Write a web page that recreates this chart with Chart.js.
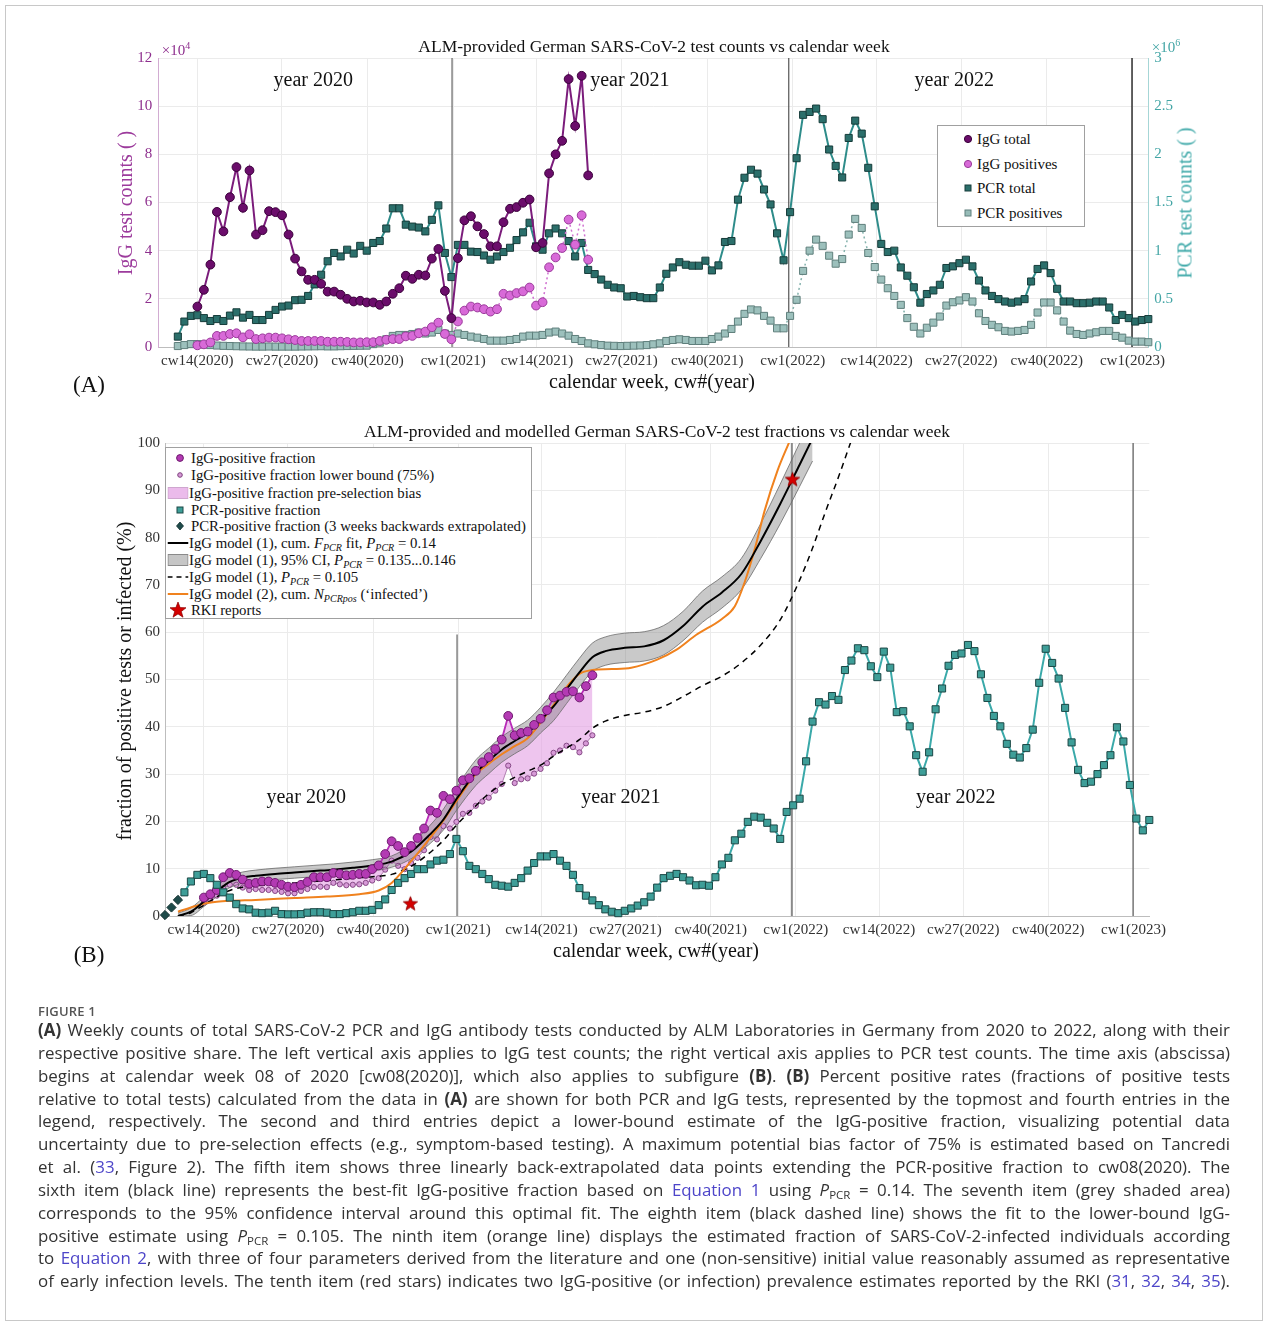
<!DOCTYPE html>
<html><head><meta charset="utf-8">
<script src="https://cdn.jsdelivr.net/npm/chart.js@4.4.1/dist/chart.umd.min.js"></script>
<style>
html,body{margin:0;padding:0;background:#fff;}
body{width:1268px;height:1326px;position:relative;overflow:hidden;font-family:'Liberation Serif',serif;}
#frame{position:absolute;left:5px;top:5px;width:1256px;height:1314px;border:1px solid #c8c8c8;}
canvas{position:absolute;left:0;}
.t{position:absolute;white-space:nowrap;transform:translate(-50%,-50%);color:#111;font-family:'Liberation Serif',serif;}
.rot{transform:translate(-50%,-50%) rotate(-90deg);}
.legend{position:absolute;background:#fff;border:1px solid #a0a0a0;font-family:'Liberation Serif',serif;color:#111;box-sizing:border-box;}
.legend .mk{position:absolute;transform:translate(-50%,-50%);display:block;}
.legend .tx{position:absolute;transform:translateY(-50%);white-space:nowrap;}
sub{font-size:0.68em;line-height:0;vertical-align:-0.3em;}
#figlab{position:absolute;left:38px;top:1002px;font-family:'Open Sans',sans-serif;font-weight:600;font-size:13px;color:#555;letter-spacing:0.2px;}
#caption{position:absolute;left:38px;top:1019px;width:1192px;font-family:'Open Sans',sans-serif;color:#333;}
.cl{font-size:16.9px;line-height:22.85px;height:22.85px;white-space:nowrap;}
.cl a{color:#4d45c9;text-decoration:none;}
</style>
</head>
<body>
<div id="frame"></div>
<canvas id="cA" width="1268" height="400" style="top:0"></canvas>
<canvas id="cB" width="1268" height="580" style="top:400px"></canvas>

<div class="t" style="left:654px;top:46px;font-size:17.5px;">ALM-provided German SARS-CoV-2 test counts vs calendar week</div>
<div class="t" style="left:176px;top:49px;font-size:15px;color:#8e2f8e;">&times;10<sup style="font-size:10px">4</sup></div>
<div class="t" style="left:1166px;top:46px;font-size:15px;color:#43a5a5;">&times;10<sup style="font-size:10px">6</sup></div>
<div class="t rot" style="left:125px;top:203px;font-size:20px;color:#9c3b9c;">IgG test counts ( )</div>
<div class="t rot" style="left:1185px;top:203px;font-size:20px;color:#3fa9a9;">PCR test counts ( )</div>
<div class="t" style="left:652px;top:381px;font-size:20px;">calendar week, cw#(year)</div>
<div class="t" style="left:89px;top:385px;font-size:23px;">(A)</div>

<div class="t" style="left:657px;top:431px;font-size:17.5px;">ALM-provided and modelled German SARS-CoV-2 test fractions vs calendar week</div>
<div class="t rot" style="left:124px;top:681px;font-size:20px;">fraction of positive tests or infected (%)</div>
<div class="t" style="left:656px;top:950px;font-size:20px;">calendar week, cw#(year)</div>
<div class="t" style="left:89px;top:955px;font-size:23px;">(B)</div>

<div class="legend" id="legA" style="left:937px;top:125px;width:148px;height:102px;font-size:15px;">
  <svg class="mk" style="left:30px;top:13px" width="10" height="10"><circle cx="5" cy="5" r="3.6" fill="#6b0d6b" stroke="#3a003a" stroke-width="1"/></svg>
  <span class="tx" style="left:39px;top:13px">IgG total</span>
  <svg class="mk" style="left:30px;top:38px" width="10" height="10"><circle cx="5" cy="5" r="3.6" fill="#d86ad8" stroke="#9a3a9a" stroke-width="1"/></svg>
  <span class="tx" style="left:39px;top:38px">IgG positives</span>
  <svg class="mk" style="left:30px;top:62px" width="10" height="10"><rect x="2" y="2" width="6" height="6" fill="#2b6f6b" stroke="#173c3a" stroke-width="1"/></svg>
  <span class="tx" style="left:39px;top:62px">PCR total</span>
  <svg class="mk" style="left:30px;top:87px" width="10" height="10"><rect x="2" y="2" width="6" height="6" fill="#97bcb8" stroke="#5f7f7c" stroke-width="1"/></svg>
  <span class="tx" style="left:39px;top:87px">PCR positives</span>
</div>

<div class="legend" id="legB" style="left:165px;top:447px;width:367px;height:172px;font-size:14.8px;">
  <svg class="mk" style="left:14px;top:10px" width="10" height="10"><circle cx="5" cy="5" r="3.4" fill="#b33ab3" stroke="#6e1a6e" stroke-width="1"/></svg>
  <span class="tx" style="left:25px;top:10px">IgG-positive fraction</span>
  <svg class="mk" style="left:14px;top:27px" width="10" height="10"><circle cx="5" cy="5" r="2.3" fill="#d79ad7" stroke="#7d3f7d" stroke-width="1"/></svg>
  <span class="tx" style="left:25px;top:27px">IgG-positive fraction lower bound (75%)</span>
  <svg class="mk" style="left:11.5px;top:45px" width="21" height="12"><rect x="0.5" y="0.5" width="20" height="11" fill="#ebbbeb" stroke="#cfa6cf" stroke-width="1"/></svg>
  <span class="tx" style="left:23px;top:45px">IgG-positive fraction pre-selection bias</span>
  <svg class="mk" style="left:14px;top:62px" width="10" height="10"><rect x="2" y="2" width="6" height="6" fill="#3e9e98" stroke="#1b4745" stroke-width="1"/></svg>
  <span class="tx" style="left:25px;top:62px">PCR-positive fraction</span>
  <svg class="mk" style="left:14px;top:78px" width="10" height="10"><polygon points="5,1 8.5,5 5,9 1.5,5" fill="#1e4b4a" stroke="#12302f" stroke-width="0.8"/></svg>
  <span class="tx" style="left:25px;top:78px">PCR-positive fraction (3 weeks backwards extrapolated)</span>
  <svg class="mk" style="left:11.5px;top:95px" width="21" height="4"><line x1="0" y1="2" x2="21" y2="2" stroke="#000" stroke-width="2"/></svg>
  <span class="tx" style="left:23px;top:95px">IgG model (1), cum. <i>F</i><sub><i>PCR</i></sub> fit, <i>P</i><sub><i>PCR</i></sub> = 0.14</span>
  <svg class="mk" style="left:11.5px;top:112px" width="21" height="12"><rect x="0.5" y="0.5" width="20" height="11" fill="#c6c6c6" stroke="#8a8a8a" stroke-width="1"/></svg>
  <span class="tx" style="left:23px;top:112px">IgG model (1), 95% CI, <i>P</i><sub><i>PCR</i></sub> = 0.135...0.146</span>
  <svg class="mk" style="left:11.5px;top:129px" width="21" height="4"><line x1="0" y1="2" x2="21" y2="2" stroke="#000" stroke-width="1.6" stroke-dasharray="5,4"/></svg>
  <span class="tx" style="left:23px;top:129px">IgG model (1), <i>P</i><sub><i>PCR</i></sub> = 0.105</span>
  <svg class="mk" style="left:11.5px;top:146px" width="21" height="4"><line x1="0" y1="2" x2="21" y2="2" stroke="#f0821e" stroke-width="2"/></svg>
  <span class="tx" style="left:23px;top:146px">IgG model (2), cum. <i>N</i><sub><i>PCRpos</i></sub> (‘infected’)</span>
  <svg class="mk" style="left:12px;top:162px" width="18" height="18"><polygon points="9,1 11.1,6.6 17,6.8 12.3,10.5 14,16.2 9,12.9 4,16.2 5.7,10.5 1,6.8 6.9,6.6" fill="#d40000" stroke="#8a0000" stroke-width="0.7"/></svg>
  <span class="tx" style="left:25px;top:162px">RKI reports</span>
</div>

<div id="figlab">FIGURE 1</div>
<div id="caption">
<div class="cl"><span><b>(A)</b> Weekly counts of total SARS-CoV-2 PCR and IgG antibody tests conducted by ALM Laboratories in Germany from 2020 to 2022, along with their</span></div>
<div class="cl"><span>respective positive share. The left vertical axis applies to IgG test counts; the right vertical axis applies to PCR test counts. The time axis (abscissa)</span></div>
<div class="cl"><span>begins at calendar week 08 of 2020 [cw08(2020)], which also applies to subfigure <b>(B)</b>. <b>(B)</b> Percent positive rates (fractions of positive tests</span></div>
<div class="cl"><span>relative to total tests) calculated from the data in <b>(A)</b> are shown for both PCR and IgG tests, represented by the topmost and fourth entries in the</span></div>
<div class="cl"><span>legend, respectively. The second and third entries depict a lower-bound estimate of the IgG-positive fraction, visualizing potential data</span></div>
<div class="cl"><span>uncertainty due to pre-selection effects (e.g., symptom-based testing). A maximum potential bias factor of 75% is estimated based on Tancredi</span></div>
<div class="cl"><span>et al. (<a>33</a>, Figure 2). The fifth item shows three linearly back-extrapolated data points extending the PCR-positive fraction to cw08(2020). The</span></div>
<div class="cl"><span>sixth item (black line) represents the best-fit IgG-positive fraction based on <a>Equation 1</a> using <i>P</i><sub>PCR</sub> = 0.14. The seventh item (grey shaded area)</span></div>
<div class="cl"><span>corresponds to the 95% confidence interval around this optimal fit. The eighth item (black dashed line) shows the fit to the lower-bound IgG-</span></div>
<div class="cl"><span>positive estimate using <i>P</i><sub>PCR</sub> = 0.105. The ninth item (orange line) displays the estimated fraction of SARS-CoV-2-infected individuals according</span></div>
<div class="cl"><span>to <a>Equation 2</a>, with three of four parameters derived from the literature and one (non-sensitive) initial value reasonably assumed as representative</span></div>
<div class="cl"><span>of early infection levels. The tenth item (red stars) indicates two IgG-positive (or infection) prevalence estimates reported by the RKI (<a>31</a>, <a>32</a>, <a>34</a>, <a>35</a>).</span></div>
</div>

<script>
// ---------- axis / category data ----------
const tickWeeks  = [5.99, 18.99, 32.13, 45.27, 58.13, 71.13, 84.27, 97.41, 110.27, 123.27, 136.41, 149.56];
const tickLabels = ['cw14(2020)','cw27(2020)','cw40(2020)','cw1(2021)','cw14(2021)','cw27(2021)','cw40(2021)','cw1(2022)','cw14(2022)','cw27(2022)','cw40(2022)','cw1(2023)'];
const yearLineWeeks = [45.1, 96.8, 149.5];
const yearNames = ['year 2020', 'year 2021', 'year 2022'];

// ---------- panel A: weekly counts (week index 0 = cw08(2020)) ----------
const igGStartWeek = 6;
const igGTotal = [ // x10^4
 1.68, 2.375, 3.42, 5.61, 4.8, 6.22, 7.47, 5.78, 7.33, 4.67,
 4.85, 5.64, 5.6, 5.47, 4.67, 3.67, 3.14, 2.79, 2.79, 2.625,
 2.3, 2.3, 2.17, 2.0, 1.89, 1.92, 1.85, 1.85, 1.75, 1.89,
 2.21, 2.44, 2.96, 2.83, 3.0, 2.97, 3.67, 4.07, 2.33, 1.2,
 3.69, 5.26, 5.43, 5.01, 4.69, 4.18, 4.18, 5.18, 5.74, 5.81,
 5.99, 6.125, 4.14, 4.32, 7.21, 8.0, 8.56, 11.125, 9.18, 11.26, 7.125];
const igGPositives = [ // x10^4
 0.07, 0.11, 0.19, 0.46, 0.46, 0.54, 0.57, 0.40, 0.53, 0.33,
 0.36, 0.39, 0.39, 0.36, 0.32, 0.29, 0.25, 0.25, 0.25, 0.25,
 0.22, 0.22, 0.22, 0.21, 0.19, 0.19, 0.2, 0.2, 0.25, 0.3,
 0.33, 0.33, 0.44, 0.46, 0.57, 0.64, 0.82, 1.01, 0.54, 0.32,
 1.06, 1.51, 1.68, 1.64, 1.57, 1.47, 1.57, 2.21, 2.14, 2.24,
 2.31, 2.47, 1.72, 1.86, 3.31, 3.72, 4.11, 5.29, 4.25, 5.47, 3.625];
const pcrStartWeek = 3;
const pcrTotal = [ // x10^6
 0.108, 0.264, 0.323, 0.33, 0.30, 0.27, 0.29, 0.27, 0.326, 0.36,
 0.305, 0.333, 0.28, 0.28, 0.333, 0.385, 0.42, 0.43, 0.486, 0.49,
 0.53, 0.65, 0.75, 0.89, 0.976, 0.94, 1.01, 0.97, 1.05, 1.0,
 1.08, 1.10, 1.23, 1.44, 1.44, 1.27, 1.25, 1.24, 1.20, 1.32,
 1.47, 0.976, 0.726, 1.06, 1.06, 0.99, 0.986, 0.95, 0.906, 0.94,
 0.986, 1.03, 1.11, 1.19, 1.29, 1.045, 1.01, 1.18, 1.23, 1.18,
 1.10, 0.94, 1.08, 0.80, 0.757, 0.70, 0.646, 0.618, 0.61, 0.524,
 0.53, 0.517, 0.507, 0.507, 0.618, 0.76, 0.826, 0.88, 0.854, 0.844,
 0.844, 0.896, 0.795, 0.847, 1.09, 1.10, 1.53, 1.757, 1.84, 1.80,
 1.635, 1.48, 1.18, 0.90, 1.40, 1.96, 2.41, 2.44, 2.475, 2.365,
 2.05, 1.88, 1.76, 2.17, 2.35, 2.215, 1.86, 1.46, 1.07, 0.986,
 1.0, 0.826, 0.74, 0.62, 0.46, 0.55, 0.587, 0.646, 0.82, 0.837,
 0.87, 0.906, 0.837, 0.69, 0.587, 0.53, 0.497, 0.472, 0.46, 0.472,
 0.497, 0.68, 0.81, 0.847, 0.767, 0.604, 0.472, 0.472, 0.455, 0.455,
 0.46, 0.472, 0.472, 0.41, 0.28, 0.333, 0.30, 0.264, 0.28, 0.29];
const pcrPositives = [ // x10^6
 0.01, 0.02, 0.03, 0.03, 0.025, 0.02, 0.015, 0.012, 0.01, 0.008,
 0.006, 0.005, 0.004, 0.004, 0.005, 0.004, 0.004, 0.004, 0.004, 0.005,
 0.006, 0.007, 0.008, 0.006, 0.006, 0.008, 0.01, 0.012, 0.013, 0.014,
 0.03, 0.045, 0.08, 0.115, 0.125, 0.125, 0.135, 0.15, 0.14, 0.15,
 0.177, 0.14, 0.125, 0.14, 0.125, 0.108, 0.097, 0.083, 0.066, 0.066,
 0.066, 0.073, 0.083, 0.108, 0.118, 0.118, 0.125, 0.15, 0.16, 0.14,
 0.118, 0.083, 0.0625, 0.038, 0.028, 0.02, 0.014, 0.012, 0.01, 0.012,
 0.014, 0.016, 0.02, 0.028, 0.038, 0.0625, 0.073, 0.08, 0.073, 0.0625,
 0.0625, 0.0625, 0.083, 0.108, 0.14, 0.1875, 0.264, 0.344, 0.39, 0.38,
 0.323, 0.274, 0.194, 0.194, 0.323, 0.49, 0.79, 1.0, 1.115, 1.05,
 0.948, 0.865, 0.913, 1.167, 1.33, 1.236, 0.976, 0.83, 0.70, 0.61,
 0.53, 0.4375, 0.30, 0.21, 0.14, 0.20, 0.253, 0.316, 0.43, 0.465,
 0.483, 0.517, 0.472, 0.35, 0.27, 0.23, 0.205, 0.167, 0.16, 0.167,
 0.177, 0.23, 0.358, 0.462, 0.462, 0.38, 0.264, 0.17, 0.135, 0.125,
 0.14, 0.153, 0.167, 0.167, 0.115, 0.097, 0.066, 0.056, 0.056, 0.05];

// ---------- panel B: fractions (%) ----------
const igGFracStartWeek = 6;
const igGFraction = [
 3.9, 4.6, 5.5, 8.2, 9.1, 8.7, 7.7, 6.8, 7.0, 7.3,
 7.3, 7.0, 6.6, 6.2, 6.1, 6.6, 7.2, 8.2, 8.2, 8.2,
 9.1, 8.9, 8.6, 8.7, 8.9, 8.9, 9.9, 10.7, 13.1, 15.8,
 14.8, 13.5, 14.8, 16.5, 18.5, 22.3, 21.8, 25.4, 24.7, 26.5,
 28.7, 29.1, 30.7, 32.5, 33.6, 35.3, 37.3, 42.3, 38.2, 38.7,
 39.0, 40.4, 41.7, 43.5, 46.2, 46.6, 47.4, 47.5, 46.2, 48.6, 50.9];
const igGLowerBound = [
 2.8, 3.4, 4.3, 5.9, 6.6, 6.6, 6.0, 5.5, 5.7, 5.5,
 5.5, 5.3, 5.1, 4.8, 4.8, 5.3, 5.7, 6.1, 6.2, 6.1,
 7.0, 6.7, 6.5, 6.6, 6.7, 7.0, 7.5, 8.0, 9.8, 11.7,
 10.6, 9.9, 11.2, 12.3, 13.9, 16.7, 16.2, 19.0, 18.5, 19.9,
 21.6, 21.8, 23.3, 24.2, 25.0, 26.5, 27.9, 31.8, 28.1, 28.9,
 29.1, 30.1, 31.1, 32.3, 34.5, 35.0, 36.0, 35.7, 34.6, 36.5, 38.2];
const pcrFracStartWeek = 3;
const pcrFraction = [
 5.0, 7.3, 8.7, 8.9, 8.0, 6.6, 5.0, 3.9, 2.5, 1.6,
 1.4, 0.7, 0.6, 0.7, 1.1, 0.4, 0.35, 0.35, 0.4, 0.7,
 0.8, 0.8, 0.7, 0.4, 0.4, 0.6, 0.8, 1.1, 1.1, 1.3,
 2.3, 3.5, 5.5, 7.0, 8.0, 8.9, 9.9, 9.9, 10.9, 11.7,
 11.9, 13.1, 16.3, 13.7, 10.6, 9.9, 8.9, 7.8, 6.6, 6.4,
 6.2, 7.0, 8.0, 9.6, 11.2, 12.6, 12.6, 13.1, 11.7, 10.6,
 8.7, 5.9, 4.3, 3.3, 2.3, 1.4, 0.9, 0.6, 1.1, 1.6,
 2.2, 2.9, 4.1, 6.0, 8.0, 8.5, 8.9, 8.2, 7.5, 6.5,
 6.6, 6.4, 8.2, 10.9, 12.3, 16.0, 17.4, 19.9, 21.0, 20.8,
 19.7, 18.5, 16.3, 22.0, 23.4, 24.8, 32.7, 41.1, 45.2, 44.7,
 46.5, 45.7, 52.0, 54.0, 56.6, 56.2, 52.8, 50.5, 55.9, 52.5,
 43.1, 43.3, 40.1, 34.0, 30.5, 34.6, 43.7, 48.1, 52.9, 55.2,
 55.5, 57.3, 56.0, 51.1, 46.1, 42.3, 40.1, 36.4, 34.1, 33.5,
 35.5, 39.4, 49.3, 56.5, 53.5, 50.2, 44.0, 36.7, 30.9, 28.1,
 28.4, 30.0, 31.9, 34.0, 39.9, 36.9, 27.7, 20.6, 18.1, 20.3];
const extrapWeeks  = [0, 1, 2];
const extrapValues = [0.2, 1.8, 3.4];

const modelWeeks = [2, 4, 6, 8, 10, 12, 14, 17, 20, 23, 26, 29, 32, 35, 38, 40, 43, 45, 48, 50,
                    52, 54, 56, 58, 60, 62, 64, 66, 68, 71, 74, 77, 80, 83, 86, 89, 92, 95, 98, 100];
const modelFit   = [0.0, 0.9, 3.0, 5.2, 7.2, 8.1, 8.5, 8.9, 9.2, 9.5, 9.8, 10.2, 10.7, 11.5, 13.6, 16.0, 20.4, 24.7, 30.3, 32.8,
                    35.2, 37.0, 38.7, 41.4, 44.3, 47.9, 51.5, 54.7, 56.0, 56.7, 57.0, 58.3, 61.3, 65.4, 68.4, 72.3, 79.3, 87.1, 95.4, 101.0];
const modelCIHigh = [0.6, 1.7, 4.0, 6.3, 8.4, 9.3, 9.7, 10.1, 10.4, 10.7, 11.0, 11.4, 11.9, 12.7, 15.1, 17.8, 22.6, 27.1, 33.0, 35.5,
                    37.9, 39.7, 41.4, 44.1, 47.3, 50.9, 54.5, 57.7, 59.0, 59.8, 60.1, 61.4, 64.4, 68.7, 71.7, 75.6, 83.0, 91.3, 100.0, 105.8];
const modelCILow  = [0.0, 0.1, 2.0, 4.1, 6.0, 6.9, 7.3, 7.7, 8.0, 8.3, 8.6, 9.0, 9.5, 10.3, 12.1, 14.2, 18.2, 22.3, 27.6, 30.1,
                    32.5, 34.3, 36.0, 38.7, 41.3, 44.9, 48.5, 51.7, 53.0, 53.6, 53.9, 55.2, 58.2, 62.1, 65.1, 69.0, 75.6, 82.9, 90.8, 96.2];
const lowerModelWeeks = [2, 4, 6, 8, 10, 12, 14, 17, 20, 23, 26, 29, 32, 35, 38, 40, 43, 45, 48, 50, 52, 54,
                         56, 58, 60, 62, 64, 66, 68, 71, 74, 77, 80, 83, 86, 89, 92, 95, 98, 100, 102, 104, 106];
const lowerModelFit   = [0.0, 0.7, 2.3, 4.0, 5.4, 6.1, 6.4, 6.7, 7.0, 7.3, 7.6, 8.0, 8.3, 8.8, 10.5, 12.4, 16.0, 19.2, 23.3, 25.9, 27.8, 29.3,
                         30.6, 31.9, 33.8, 35.5, 37.3, 39.7, 41.2, 42.4, 43.1, 44.3, 46.4, 48.7, 50.7, 53.5, 57.3, 62.6, 71.0, 77.8, 85.5, 92.8, 100.6];
const infectedWeeks = [2, 4, 6, 8, 10, 14, 20, 25, 30, 33, 35, 38, 40, 43, 45, 48, 50, 52, 54, 56, 58, 60, 62,
                       64, 66, 69, 72, 76, 79, 82, 86, 88, 89.5, 91, 92.6, 94.6, 96.4];
const infectedModel = [0.9, 1.8, 2.6, 3.0, 3.2, 3.4, 3.8, 4.1, 4.6, 5.4, 7.0, 11.6, 14.9, 20.2, 24.3, 30.0, 32.2, 34.2, 35.9, 37.6, 40.9, 44.6, 48.4,
                       51.2, 52.0, 52.2, 52.5, 54.2, 56.3, 59.4, 62.8, 65.5, 70.5, 77.2, 85.7, 94.2, 100.2];
const rkiWeeks  = [37.9, 96.9];
const rkiValues = [2.7, 92.4];

// ---------- helpers ----------
const series = (start, vals) => vals.map((v, i) => ({x: start + i, y: v}));
const pairs  = (xs, ys) => xs.map((x, i) => ({x: x, y: ys[i]}));
const vline  = (w, top) => [{x: w, y: 0}, {x: w, y: top}];

Chart.defaults.font.family = "'Liberation Serif', serif";
Chart.defaults.color = '#222';

const yearLabelPlugin = {
  id: 'yearLabels',
  afterDatasetsDraw(chart, args, o) {
    const ctx = chart.ctx;
    ctx.save();
    ctx.font = o.font; ctx.fillStyle = '#111';
    ctx.textAlign = 'center'; ctx.textBaseline = 'middle';
    o.text.forEach((t, i) => ctx.fillText(t, chart.scales.x.getPixelForValue(o.xs[i]), chart.scales[o.yAxis].getPixelForValue(o.y)));
    ctx.restore();
  }
};

function xAxis() {
  return {
    type: 'linear', min: 0, max: 152,
    afterBuildTicks: ax => { ax.ticks = tickWeeks.map(v => ({value: v})); },
    afterFit: s => { s.height = 25; },
    ticks: { autoSkip: false, maxRotation: 0, color: '#333', font: {size: 15}, padding: 5,
             callback: (v, i) => tickLabels[i] },
    grid: { color: '#ebebeb', drawTicks: false },
    border: { color: '#bdbdbd' }
  };
}
const plainNum = v => String(Math.round(v * 10) / 10);

// ---------- star marker ----------
function makeStar(size) {
  const c = document.createElement('canvas'); c.width = c.height = size;
  const g = c.getContext('2d');
  const cx = size / 2, cy = size / 2 + 0.8, R = size / 2 - 1, r = R * 0.42;
  g.beginPath();
  for (let i = 0; i < 10; i++) {
    const a = -Math.PI / 2 + i * Math.PI / 5, rr = i % 2 ? r : R;
    g.lineTo(cx + rr * Math.cos(a), cy + rr * Math.sin(a));
  }
  g.closePath(); g.fillStyle = '#d40000'; g.fill();
  g.strokeStyle = '#8a0000'; g.lineWidth = 0.8; g.stroke();
  return c;
}

// ---------- chart A ----------
new Chart(document.getElementById('cA'), {
  type: 'line',
  data: { datasets: [
    { label: 'IgG total', data: series(igGStartWeek, igGTotal), yAxisID: 'y', order: 1, clip: 8,
      borderColor: '#7b1c7b', borderWidth: 2, pointStyle: 'circle', pointRadius: 4.4,
      pointBackgroundColor: '#6b0d6b', pointBorderColor: '#3a003a', pointBorderWidth: 1 },
    { label: 'IgG positives', data: series(igGStartWeek, igGPositives), yAxisID: 'y', order: 2, clip: 8,
      borderColor: '#d070d0', borderWidth: 1.5, borderDash: [2, 3], pointStyle: 'circle', pointRadius: 4.4,
      pointBackgroundColor: '#d86ad8', pointBorderColor: '#9a3a9a', pointBorderWidth: 1 },
    { label: 'PCR total', data: series(pcrStartWeek, pcrTotal), yAxisID: 'y1', order: 3, clip: 8,
      borderColor: '#2e8c8a', borderWidth: 2, pointStyle: 'rect', pointRadius: 5,
      pointBackgroundColor: '#2b6f6b', pointBorderColor: '#173c3a', pointBorderWidth: 1 },
    { label: 'PCR positives', data: series(pcrStartWeek, pcrPositives), yAxisID: 'y1', order: 4, clip: 8,
      borderColor: '#86b3ae', borderWidth: 1.5, borderDash: [2, 3], pointStyle: 'rect', pointRadius: 5,
      pointBackgroundColor: '#9cc0bc', pointBorderColor: '#5f7f7c', pointBorderWidth: 1 },
    { label: 'yl1', data: vline(yearLineWeeks[0], 12), yAxisID: 'y', order: 9, borderColor: '#555', borderWidth: 1.1, pointRadius: 0 },
    { label: 'yl2', data: vline(yearLineWeeks[1], 12), yAxisID: 'y', order: 9, borderColor: '#444', borderWidth: 1.1, pointRadius: 0 },
    { label: 'yl3', data: vline(yearLineWeeks[2], 12), yAxisID: 'y', order: 9, borderColor: '#111', borderWidth: 1.3, pointRadius: 0 }
  ]},
  options: {
    responsive: false, animation: false, events: [],
    layout: { padding: { left: 0, right: 0, top: 58, bottom: 28 } },
    scales: {
      x: xAxis(),
      y: { position: 'left', min: 0, max: 12,
           afterFit: s => { s.width = 158.3; },
           ticks: { stepSize: 2, color: '#8e2f8e', font: {size: 15}, padding: 6, callback: plainNum },
           grid: { color: '#ebebeb', drawTicks: false }, border: { color: '#d2acd2' } },
      y1: { position: 'right', min: 0, max: 3,
           afterFit: s => { s.width = 119.7; },
           ticks: { stepSize: 0.5, color: '#43a5a5', font: {size: 15}, padding: 6, callback: plainNum },
           grid: { drawOnChartArea: false, drawTicks: false }, border: { color: '#a6d6d6' } }
    },
    plugins: {
      legend: { display: false }, tooltip: { enabled: false },
      yearLabels: { text: yearNames, xs: [23.8, 72.4, 122.2], y: 11.04, yAxis: 'y', font: "20px 'Liberation Serif'" }
    }
  },
  plugins: [yearLabelPlugin]
});

// ---------- chart B ----------
const pink = 'rgba(228,162,228,0.62)';
new Chart(document.getElementById('cB'), {
  type: 'line',
  data: { datasets: [
    { label: 'RKI reports', data: pairs(rkiWeeks, rkiValues), order: 0, showLine: false, clip: 10,
      pointStyle: makeStar(17), pointRadius: 8 },
    { label: 'PCR-positive fraction', data: series(pcrFracStartWeek, pcrFraction), order: 1, clip: 8,
      borderColor: '#3aa9a9', borderWidth: 2, pointStyle: 'rect', pointRadius: 5,
      pointBackgroundColor: '#3e9e98', pointBorderColor: '#1b4745', pointBorderWidth: 1 },
    { label: 'PCR-positive fraction (3 weeks backwards extrapolated)', data: pairs(extrapWeeks, extrapValues), order: 1,
      showLine: false, clip: false, pointStyle: 'rectRot', pointRadius: 4.6,
      pointBackgroundColor: '#1e4b4a', pointBorderColor: '#12302f', pointBorderWidth: 1 },
    { label: 'IgG-positive fraction', data: series(igGFracStartWeek, igGFraction), order: 2, clip: 8,
      borderColor: '#b82cb8', borderWidth: 1.8, pointStyle: 'circle', pointRadius: 4.4,
      pointBackgroundColor: '#b33ab3', pointBorderColor: '#6e1a6e', pointBorderWidth: 1 },
    { label: 'IgG model (1) fit', data: pairs(modelWeeks, modelFit), order: 3, pointRadius: 0,
      borderColor: '#000', borderWidth: 2, cubicInterpolationMode: 'monotone' },
    { label: 'IgG model (2)', data: pairs(infectedWeeks, infectedModel), order: 4, pointRadius: 0,
      borderColor: '#f0821e', borderWidth: 2, cubicInterpolationMode: 'monotone' },
    { label: 'IgG model (1) P=0.105', data: pairs(lowerModelWeeks, lowerModelFit), order: 5, pointRadius: 0,
      borderColor: '#000', borderWidth: 1.5, borderDash: [6, 5], cubicInterpolationMode: 'monotone' },
    { label: 'CI low', data: pairs(modelWeeks, modelCILow), order: 6, pointRadius: 0, fill: false,
      borderColor: '#6a6a6a', borderWidth: 0.8, cubicInterpolationMode: 'monotone' },
    { label: 'CI high', data: pairs(modelWeeks, modelCIHigh), order: 6, pointRadius: 0,
      fill: '-1', backgroundColor: 'rgba(120,120,120,0.4)',
      borderColor: '#6a6a6a', borderWidth: 0.8, cubicInterpolationMode: 'monotone' },
    { label: 'IgG-positive fraction lower bound (75%)', data: series(igGFracStartWeek, igGLowerBound), order: 7, clip: 8,
      fill: { target: 3, above: pink, below: pink },
      borderColor: '#a066a0', borderWidth: 0.8, pointStyle: 'circle', pointRadius: 2.6,
      pointBackgroundColor: '#d79ad7', pointBorderColor: '#7d3f7d', pointBorderWidth: 0.9 },
    { label: 'yl1', data: vline(yearLineWeeks[0], 59.5), order: 9, borderColor: '#555', borderWidth: 1.1, pointRadius: 0 },
    { label: 'yl2', data: vline(yearLineWeeks[1], 100), order: 9, borderColor: '#8a8a8a', borderWidth: 2, pointRadius: 0 },
    { label: 'yl3', data: vline(yearLineWeeks[2], 100), order: 9, borderColor: '#777', borderWidth: 1.5, pointRadius: 0 }
  ]},
  options: {
    responsive: false, animation: false, events: [],
    layout: { padding: { left: 0, right: 118.7, top: 43, bottom: 39 } },
    scales: {
      x: xAxis(),
      y: { position: 'left', min: 0, max: 100,
           afterFit: s => { s.width = 165; },
           ticks: { stepSize: 10, color: '#333', font: {size: 15}, padding: 5, callback: plainNum },
           grid: { color: '#ebebeb', drawTicks: false }, border: { color: '#bdbdbd' } }
    },
    plugins: {
      legend: { display: false }, tooltip: { enabled: false },
      filler: { drawTime: 'beforeDatasetsDraw', propagate: false },
      yearLabels: { text: yearNames, xs: [21.8, 70.4, 122.1], y: 25.1, yAxis: 'y', font: "20px 'Liberation Serif'" }
    }
  },
  plugins: [yearLabelPlugin]
});

// ---------- caption justification ----------
function justify() {
  document.querySelectorAll('.cl').forEach(el => {
    const span = el.firstElementChild;
    span.style.wordSpacing = '0px';
    const w = span.getBoundingClientRect().width;
    const n = (span.textContent.match(/ /g) || []).length;
    if (n) span.style.wordSpacing = ((1192 - w) / n) + 'px';
  });
}
justify();
if (document.fonts && document.fonts.ready) document.fonts.ready.then(justify);
</script>
</body></html>
